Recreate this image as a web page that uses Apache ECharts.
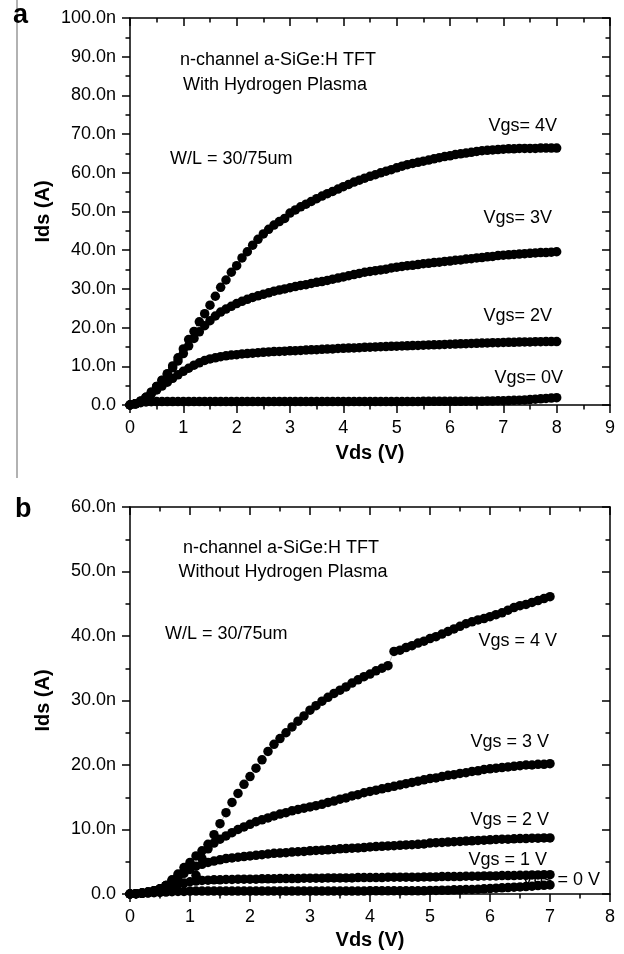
<!DOCTYPE html>
<html>
<head>
<meta charset="utf-8">
<title>a-SiGe:H TFT output characteristics</title>
<script src="https://cdn.jsdelivr.net/npm/echarts@6/dist/echarts.min.js"></script>
<style>
  html, body { margin: 0; padding: 0; background: #fff; }
  #chart { width: 624px; height: 954px; }
</style>
</head>
<body>
<div id="chart"></div>
<script>
// Vds sweep in volts
const vdsA = [0,0.1,0.2,0.3,0.4,0.5,0.6,0.7,0.8,0.9,1.0,1.1,1.2,1.3,1.4,1.5,1.6,1.7,1.8,1.9,
  2.0,2.1,2.2,2.3,2.4,2.5,2.6,2.7,2.8,2.9,3.0,3.1,3.2,3.3,3.4,3.5,3.6,3.7,3.8,3.9,
  4.0,4.1,4.2,4.3,4.4,4.5,4.6,4.7,4.8,4.9,5.0,5.1,5.2,5.3,5.4,5.5,5.6,5.7,5.8,5.9,
  6.0,6.1,6.2,6.3,6.4,6.5,6.6,6.7,6.8,6.9,7.0,7.1,7.2,7.3,7.4,7.5,7.6,7.7,7.8,7.9,8.0];
const vdsB = [0,0.1,0.2,0.3,0.4,0.5,0.6,0.7,0.8,0.9,1.0,1.1,1.2,1.3,1.4,1.5,1.6,1.7,1.8,1.9,
  2.0,2.1,2.2,2.3,2.4,2.5,2.6,2.7,2.8,2.9,3.0,3.1,3.2,3.3,3.4,3.5,3.6,3.7,3.8,3.9,
  4.0,4.1,4.2,4.3,4.4,4.5,4.6,4.7,4.8,4.9,5.0,5.1,5.2,5.3,5.4,5.5,5.6,5.7,5.8,5.9,
  6.0,6.1,6.2,6.3,6.4,6.5,6.6,6.7,6.8,6.9,7.0];

// panel a: with hydrogen plasma, Ids in nA
const idsA4 = [0,0.3,1.0,2.0,3.3,4.8,6.4,8.1,10.1,12.2,
  14.5,16.9,19.0,21.5,23.6,25.8,28.1,30.4,32.3,34.3,
  36.0,38.0,39.6,41.3,42.8,44.2,45.4,46.5,47.4,48.2,
  49.6,50.4,51.2,51.9,52.6,53.3,54.0,54.6,55.2,55.8,
  56.4,57.0,57.6,58.1,58.6,59.1,59.5,60.0,60.4,60.8,
  61.3,61.7,62.1,62.4,62.7,63.0,63.3,63.6,63.9,64.2,
  64.4,64.7,64.9,65.1,65.3,65.5,65.7,65.8,65.9,66.0,
  66.1,66.2,66.2,66.3,66.3,66.3,66.3,66.4,66.4,66.4,
  66.4];
const idsA3 = [0,0.3,1.0,2.0,3.3,4.8,6.3,7.9,9.6,11.4,
  13.3,15.3,17.2,18.9,20.5,21.8,23.0,24.0,24.8,25.5,
  26.2,26.8,27.3,27.8,28.2,28.6,29.0,29.4,29.7,30.0,
  30.3,30.6,30.9,31.1,31.4,31.7,31.9,32.2,32.5,32.8,
  33.1,33.4,33.7,34.0,34.3,34.5,34.7,34.9,35.1,35.4,
  35.6,35.8,36.0,36.1,36.3,36.5,36.6,36.8,36.9,37.1,
  37.2,37.4,37.5,37.7,37.8,38.0,38.1,38.3,38.4,38.6,
  38.7,38.8,38.9,39.0,39.1,39.2,39.3,39.4,39.4,39.5,
  39.6];
const idsA2 = [0,0.3,1.0,1.9,2.9,3.9,4.9,5.9,6.9,7.8,
  8.7,9.5,10.3,10.9,11.5,11.9,12.2,12.5,12.7,12.9,
  13.0,13.2,13.3,13.4,13.5,13.6,13.7,13.8,13.85,13.9,
  14.0,14.05,14.1,14.2,14.25,14.3,14.4,14.45,14.5,14.6,
  14.65,14.7,14.75,14.8,14.9,14.95,15.0,15.05,15.1,15.15,
  15.2,15.25,15.3,15.35,15.4,15.45,15.5,15.55,15.6,15.65,
  15.7,15.75,15.8,15.85,15.9,15.95,16.0,16.05,16.1,16.1,
  16.15,16.2,16.2,16.25,16.3,16.3,16.35,16.35,16.4,16.4,
  16.4];
const idsA0 = [0,0.3,0.6,0.8,0.85,0.9,0.9,0.9,0.9,0.9,
  0.9,0.9,0.9,0.9,0.9,0.9,0.9,0.9,0.9,0.9,
  0.9,0.9,0.9,0.9,0.9,0.9,0.9,0.9,0.9,0.9,
  0.9,0.9,0.9,0.9,0.9,0.9,0.9,0.9,0.9,0.9,
  0.9,0.9,0.9,0.9,0.9,0.9,0.9,0.9,0.9,0.9,
  0.9,0.9,0.9,0.9,0.9,0.95,0.95,0.95,0.95,0.95,
  0.95,0.95,0.95,1.0,1.0,1.0,1.0,1.05,1.05,1.1,
  1.1,1.15,1.2,1.25,1.3,1.4,1.5,1.6,1.7,1.8,
  1.9];

// panel b: without hydrogen plasma, Ids in nA
const idsB4 = [0,0.05,0.15,0.3,0.5,0.8,1.3,2.2,3.1,4.1,
  4.9,5.9,6.7,7.7,9.2,10.9,12.6,14.2,15.6,17.0,
  18.2,19.5,20.8,22.1,23.2,24.1,25.0,25.9,26.8,27.6,
  28.5,29.2,29.9,30.5,31.1,31.6,32.1,32.7,33.2,33.7,
  34.1,34.6,35.0,35.4,37.6,37.8,38.2,38.5,38.9,39.2,
  39.6,39.9,40.3,40.7,41.1,41.5,41.9,42.2,42.5,42.7,
  43.0,43.3,43.6,44.0,44.4,44.7,44.9,45.2,45.5,45.8,
  46.1];
const idsB3 = [0,0.05,0.15,0.3,0.5,0.8,1.3,2.0,2.8,3.5,
  4.2,2.9,5.5,7.0,7.9,8.5,9.0,9.5,10.0,10.4,
  10.8,11.2,11.5,11.8,12.1,12.4,12.6,12.9,13.1,13.3,
  13.5,13.7,13.9,14.2,14.4,14.7,14.9,15.2,15.4,15.7,
  15.9,16.1,16.3,16.5,16.7,16.9,17.1,17.3,17.5,17.7,
  17.9,18.0,18.2,18.4,18.5,18.7,18.8,19.0,19.1,19.3,
  19.4,19.5,19.6,19.7,19.8,19.9,20.0,20.0,20.1,20.1,
  20.2];
const idsB2 = [0,0.05,0.15,0.3,0.5,0.8,1.3,1.9,2.6,3.2,
  3.8,4.3,4.6,4.9,5.1,5.3,5.5,5.6,5.7,5.8,
  5.9,6.0,6.1,6.2,6.3,6.35,6.4,6.5,6.55,6.6,
  6.7,6.75,6.8,6.85,6.9,7.0,7.05,7.1,7.15,7.2,
  7.3,7.35,7.4,7.45,7.5,7.55,7.6,7.65,7.7,7.75,
  7.9,7.95,8.0,8.05,8.1,8.15,8.2,8.25,8.3,8.35,
  8.4,8.45,8.5,8.5,8.55,8.6,8.6,8.65,8.65,8.7,
  8.7];
const idsB1 = [0,0.05,0.1,0.2,0.3,0.5,0.8,1.2,1.5,1.7,
  1.9,2.0,2.1,2.15,2.2,2.2,2.25,2.25,2.3,2.3,
  2.3,2.3,2.35,2.35,2.35,2.4,2.4,2.4,2.4,2.45,
  2.45,2.45,2.45,2.5,2.5,2.5,2.5,2.5,2.55,2.55,
  2.55,2.55,2.55,2.6,2.6,2.6,2.6,2.6,2.6,2.65,
  2.65,2.65,2.7,2.7,2.7,2.7,2.75,2.75,2.75,2.8,
  2.8,2.8,2.85,2.85,2.85,2.9,2.9,2.95,2.95,3.0,
  3.0];
const idsB0 = [0,0.05,0.1,0.15,0.2,0.25,0.3,0.35,0.4,0.4,
  0.45,0.45,0.45,0.45,0.45,0.45,0.45,0.45,0.45,0.45,
  0.45,0.45,0.45,0.45,0.45,0.45,0.45,0.45,0.45,0.45,
  0.45,0.45,0.45,0.45,0.45,0.45,0.45,0.45,0.45,0.45,
  0.5,0.5,0.5,0.5,0.5,0.5,0.5,0.5,0.5,0.5,
  0.55,0.55,0.6,0.6,0.65,0.65,0.7,0.7,0.75,0.8,
  0.85,0.9,0.95,1.0,1.05,1.1,1.15,1.2,1.3,1.35,
  1.4];

const FONT = '"Liberation Sans", Arial, sans-serif';
const black = { color: '#000', width: 1.5 };

function valueAxis(gridIndex, max, extra) {
  return Object.assign({
    type: 'value',
    gridIndex: gridIndex,
    min: 0,
    max: max,
    interval: max > 20 ? 10 : 1,
    axisLine: { show: true, onZero: false, lineStyle: black },
    axisTick: { show: true, length: 8, lineStyle: black },
    minorTick: { show: true, splitNumber: 2, length: 4.5, lineStyle: black },
    splitLine: { show: false },
    axisLabel: { show: false }
  }, extra);
}

function xAxes(gridIndex, max, nameGap) {
  return [
    valueAxis(gridIndex, max, {
      position: 'bottom',
      name: 'Vds (V)',
      nameLocation: 'middle',
      nameGap: nameGap,
      nameMoveOverlap: false,
      nameTextStyle: { fontFamily: FONT, fontSize: 20, fontWeight: 'bold', color: '#000' },
      axisLabel: { show: true, margin: 14, fontFamily: FONT, fontSize: 18, color: '#000' }
    }),
    valueAxis(gridIndex, max, {
      position: 'top',
      axisTick: { show: true, inside: true, length: 8, lineStyle: black }
    })
  ];
}

function yAxes(gridIndex, max) {
  return [
    valueAxis(gridIndex, max, {
      position: 'left',
      name: 'Ids (A)',
      nameLocation: 'middle',
      nameGap: 77,
      nameMoveOverlap: false,
      nameTextStyle: { fontFamily: FONT, fontSize: 20, fontWeight: 'bold', color: '#000' },
      axisLabel: {
        show: true, margin: 14, fontFamily: FONT, fontSize: 18, color: '#000',
        formatter: v => v === 0 ? '0.0' : v.toFixed(1) + 'n'
      }
    }),
    valueAxis(gridIndex, max, {
      position: 'right',
      axisTick: { show: true, inside: true, length: 8, lineStyle: black }
    })
  ];
}

function curve(name, vds, ids, axisIndex) {
  return {
    type: 'line',
    name: name,
    xAxisIndex: axisIndex,
    yAxisIndex: axisIndex,
    data: vds.map((v, i) => [v, ids[i]]),
    symbol: 'circle',
    symbolSize: 9.5,
    itemStyle: { color: '#000' },
    lineStyle: { color: '#777', width: 0.5 },
    silent: true
  };
}

function note(text, x, y, align) {
  return {
    type: 'text',
    x: x,
    y: y,
    style: {
      text: text,
      fontFamily: FONT,
      fontSize: 18,
      fill: '#000',
      align: align || 'left',
      verticalAlign: 'middle'
    }
  };
}

function panelLetter(text, x, y) {
  return {
    type: 'text', x: x, y: y,
    style: { text: text, fontFamily: FONT, fontSize: 27, fontWeight: 'bold', fill: '#000', align: 'left', verticalAlign: 'middle' }
  };
}

const chart = echarts.init(document.getElementById('chart'), null, { renderer: 'canvas' });

const option = {
  backgroundColor: '#fff',
  animation: false,
  grid: [
    { left: 130, top: 18, right: 14, height: 387, containLabel: false, outerBoundsMode: 'none' },
    { left: 130, top: 507, right: 14, height: 387, containLabel: false, outerBoundsMode: 'none' }
  ],
  xAxis: [].concat(xAxes(0, 9, 38), xAxes(1, 8, 36)),
  yAxis: [].concat(yAxes(0, 100), yAxes(1, 60)),
  series: [
    curve('Vgs= 4V', vdsA, idsA4, 0),
    curve('Vgs= 3V', vdsA, idsA3, 0),
    curve('Vgs= 2V', vdsA, idsA2, 0),
    curve('Vgs= 0V', vdsA, idsA0, 0),
    curve('Vgs = 4 V', vdsB, idsB4, 2),
    curve('Vgs = 3 V', vdsB, idsB3, 2),
    curve('Vgs = 2 V', vdsB, idsB2, 2),
    curve('Vgs = 1 V', vdsB, idsB1, 2),
    curve('Vgs = 0 V', vdsB, idsB0, 2)
  ],
  graphic: {
    z: 0,
    elements: [
      { type: 'line', shape: { x1: 17, y1: 0, x2: 17, y2: 478 }, style: { stroke: '#999', lineWidth: 1.5 } },
      panelLetter('a', 13, 16),
      panelLetter('b', 15, 510),
      note('n-channel a-SiGe:H TFT', 278, 60, 'center'),
      note('With Hydrogen Plasma', 275, 85, 'center'),
      note('W/L = 30/75um', 170, 159),
      note('Vgs= 4V', 557, 126, 'right'),
      note('Vgs= 3V', 552, 218, 'right'),
      note('Vgs= 2V', 552, 316, 'right'),
      note('Vgs= 0V', 563, 378, 'right'),
      note('n-channel a-SiGe:H TFT', 281, 548, 'center'),
      note('Without Hydrogen Plasma', 283, 572, 'center'),
      note('W/L = 30/75um', 165, 634),
      note('Vgs = 4 V', 557, 641, 'right'),
      note('Vgs = 3 V', 549, 742, 'right'),
      note('Vgs = 2 V', 549, 820, 'right'),
      note('Vgs = 1 V', 547, 860, 'right'),
      note('Vgs = 0 V', 600, 880, 'right')
    ]
  }
};

chart.setOption(option);
</script>
</body>
</html>
